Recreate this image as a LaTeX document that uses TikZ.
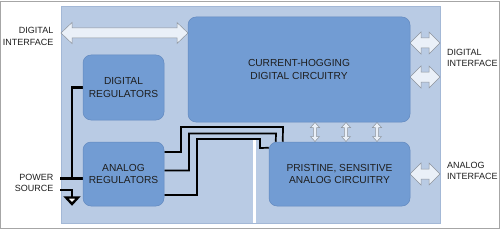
\documentclass[tikz,border=0pt]{standalone}
\usepackage{fontspec}
\setmainfont{Liberation Sans}
\usetikzlibrary{calc}
\pgfdeclarelayer{bg}
\pgfdeclarelayer{wires}
\pgfsetlayers{bg,wires,main}
\definecolor{panelc}{HTML}{B9CBE4}
\definecolor{panelb}{HTML}{A3B8D6}
\definecolor{boxc}{HTML}{729CD3}
\definecolor{boxb}{HTML}{6289BF}
\definecolor{arrf}{HTML}{EAF0F8}
\definecolor{arrd}{HTML}{8C939C}
\definecolor{txt}{HTML}{1E1E1E}
\begin{document}
\begin{tikzpicture}[x=1pt,y=-1pt,
  blk/.style={draw=boxb,line width=0.5pt,fill=boxc,rounded corners=8pt,align=center,
    text=txt,font=\fontsize{10.2}{12.2}\selectfont,inner sep=0pt},
  lbl/.style={text=txt,font=\fontsize{9}{11.2}\selectfont,inner sep=0pt},
  wire/.style={line width=1.7pt,black},
  pwr/.style={line width=2.4pt,black},
  arr/.style={fill=arrf,draw=arrd,line width=0.5pt,line join=miter}]
\useasboundingbox (0,0) rectangle (500,230);
% outer frame and panel
\begin{pgfonlayer}{bg}
  \fill[white] (0,0) rectangle (500,230);
  \draw[gray!70,line width=0.8pt] (0.6,1) rectangle (499.4,228.6);
  \fill[panelc] (61,6) rectangle (440,223);
  \draw[panelb,line width=0.4pt] (61,6) rectangle (440,223);
  \draw[white,line width=2.6pt] (254.5,140) -- (254.5,223);
\end{pgfonlayer}
% blocks
\node[blk,minimum width=222pt,minimum height=105pt] (cur) at (299,69.5) {CURRENT-HOGGING\\DIGITAL CIRCUITRY};
\node[blk,minimum width=81pt,minimum height=65pt] (dreg) at (123.5,87.5) {DIGITAL\\REGULATORS};
\node[blk,minimum width=81pt,minimum height=64pt] (areg) at (123.5,174) {ANALOG\\REGULATORS};
\node[blk,minimum width=141pt,minimum height=64pt] (pris) at (339.5,174) {PRISTINE, SENSITIVE\\ANALOG CIRCUITRY};
% labels
\node[lbl,anchor=east,align=right] (ldi) at (53.5,36.5) {DIGITAL\\INTERFACE};
\node[lbl,anchor=west,align=left] (rdi) at (447,58) {DIGITAL\\INTERFACE};
\node[lbl,anchor=west,align=left] (rai) at (447,170.5) {ANALOG\\INTERFACE};
\node[lbl,anchor=east,align=right] (lps) at (53.5,182.5) {POWER\\SOURCE};
\begin{pgfonlayer}{wires}
  % interface arrows
  \draw[arr] (61,33) -- (72,22.5) -- (72,28) -- (177,28) -- (177,22.5) -- (188,33)
    -- (177,43.5) -- (177,38) -- (72,38) -- (72,43.5) -- cycle;
  \foreach \yy in {43,77,174}{
    \draw[arr] (410,\yy) -- (421,\yy-11) -- (421,\yy-5) -- (429,\yy-5) -- (429,\yy-11) -- (440,\yy)
      -- (429,\yy+11) -- (429,\yy+5) -- (421,\yy+5) -- (421,\yy+11) -- cycle;
  }
  \foreach \xx in {315,346,377}{
    \draw[arr] (\xx,122.5) -- (\xx+4.5,127.5) -- (\xx+1.6,127.5) -- (\xx+1.6,136.5) -- (\xx+4.5,136.5)
      -- (\xx,141.5) -- (\xx-4.5,136.5) -- (\xx-1.6,136.5) -- (\xx-1.6,127.5) -- (\xx-4.5,127.5) -- cycle;
  }
  % digital regulators to digital circuitry
  \draw[wire] ($(dreg.east)+(0,-16.5)$) -- ($(dreg.east)+(0,-16.5)$ -| cur.west);
  \draw[wire] ($(dreg.east)+(0,16.5)$) -- ($(dreg.east)+(0,16.5)$ -| cur.west);
  % analog regulators to pristine circuitry
  \draw[wire] ($(areg.east)+(0,-22)$) -- (181,152) -- (181,127) -- (283,127) -- ($(pris.north west)+(14,0)$);
  \draw[wire] ($(areg.east)+(0,-3.5)$) -- (189,170.5) -- (189,133.5) -- (276,133.5) -- ($(pris.north west)+(7,0)$);
  \draw[wire] ($(areg.east)+(0,21)$) -- (197,195) -- (197,139) -- (260,139) -- (260,148) -- ($(pris.north west)+(0,6)$);
  % power source
  \coordinate (ps) at (60,178.5);
  \coordinate (jn) at (72,178.5);
  \draw[pwr] (ps) -- (ps -| areg.west);
  \draw[pwr] (jn) |- (dreg.west);
  \coordinate (gs) at (60,190);
  \draw[pwr] (gs) -| (72,197);
  \draw[pwr,fill=white,line join=miter] (66,197.5) -- (78,197.5) -- (72,204) -- cycle;
\end{pgfonlayer}
\end{tikzpicture}
\end{document}
